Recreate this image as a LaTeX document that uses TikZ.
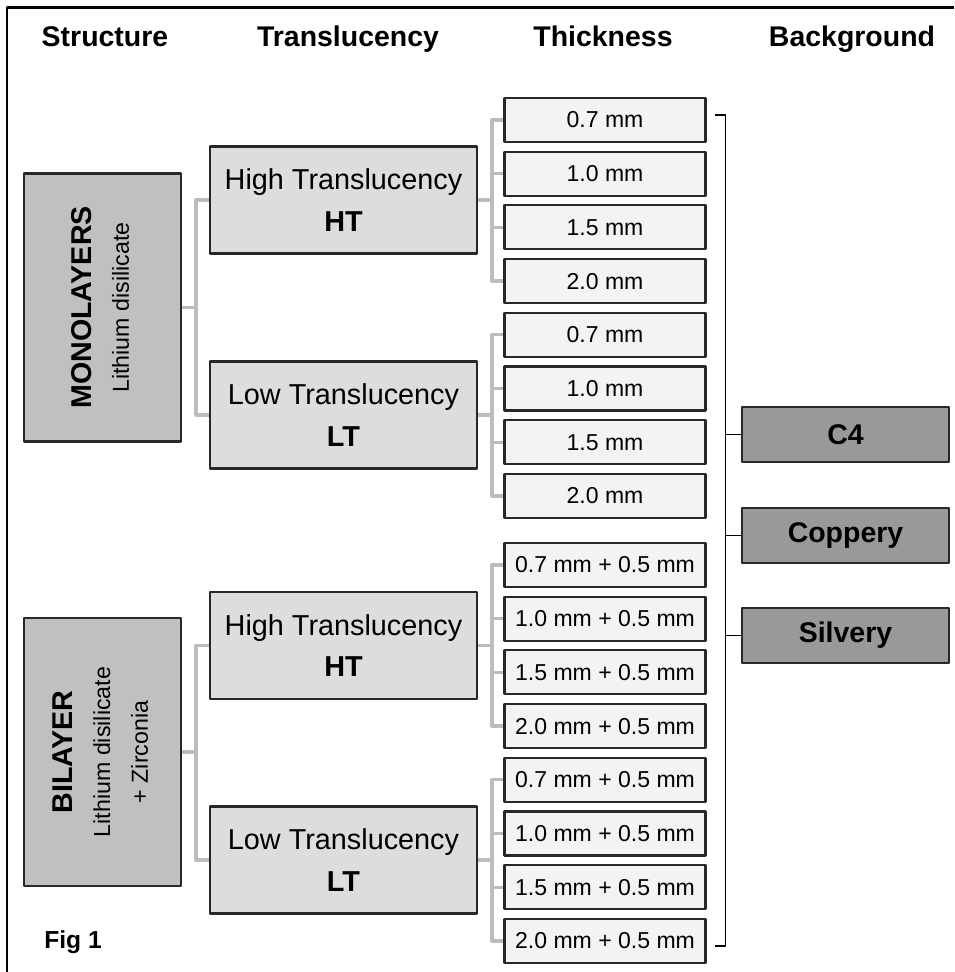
\documentclass[tikz,border=0pt]{standalone}
\usepackage{fontspec}
\setmainfont{Liberation Sans}
\usepackage{graphicx}
\usetikzlibrary{calc}
\definecolor{inkgray}{RGB}{40,40,40}
\definecolor{darkfill}{RGB}{192,192,192}
\definecolor{midfill}{RGB}{221,221,221}
\definecolor{lightfill}{RGB}{243,243,243}
\definecolor{bgfill}{RGB}{153,153,153}
\definecolor{linkgray}{RGB}{188,188,188}
\newcommand{\sidetext}[2]{\rotatebox{90}{\begin{tabular}{@{}c@{}}%
  {\fontsize{16.3}{21}\selectfont\bfseries #1}\\#2\end{tabular}}}
\tikzset{
  box/.style={draw=inkgray,line width=1.2pt,inner sep=0pt,align=center},
  structbox/.style={box,fill=darkfill,minimum width=3.14cm,minimum height=5.36cm,
    font=\fontsize{13.2}{21.5}\selectfont},
  transbox/.style={box,fill=midfill,minimum width=5.34cm,minimum height=2.14cm,
    font=\fontsize{16.4}{23.5}\selectfont},
  thickbox/.style={box,fill=lightfill,minimum width=4.02cm,minimum height=0.88cm,
    font=\fontsize{13.1}{16}\selectfont},
  bgbox/.style={box,fill=bgfill,minimum width=4.14cm,minimum height=1.1cm,
    font=\fontsize{16.2}{19}\selectfont\bfseries},
  head/.style={anchor=base,font=\fontsize{16.2}{19}\selectfont\bfseries},
  link/.style={linkgray,line width=1.9pt},
  brace/.style={black,line width=0.9pt}
}

\begin{document}
\begin{tikzpicture}[x=0.02cm,y=-0.02cm,line join=round]
  \useasboundingbox (0,0) rectangle (954,972);
  \draw[line width=1.7pt] (7,972) -- (7,8) -- (954,8);
  \node[head] (hstruct) at (105,47) {Structure};
  \node[head] (htrans) at (348,47) {Translucency};
  \node[head] (hthick) at (603,47) {Thickness};
  \node[head] (hback) at (852,47) {Background};
  \node[structbox] (mono) at (102.5,307.5) {\sidetext{MONOLAYERS}{Lithium disilicate}};
  \node[structbox] (bi) at (102.5,752) {\sidetext{BILAYER}{Lithium disilicate\\+ Zirconia}};
  \foreach \n/\y/\w/\a in {monoht/200/High/HT,monolt/415/Low/LT,biht/645.5/High/HT,bilt/860/Low/LT}
    \node[transbox] (\n) at (343.5,\y) {\w{} Translucency\\\textbf{\a}};
  \foreach \p/\c in {mono/monoht,mono/monolt,bi/biht,bi/bilt}
    \draw[link] (\p.east) -- ++(14,0) |- (\c.west);
  \foreach \i/\v in {0/0.7,1/1.0,2/1.5,3/2.0} {
    \node[thickbox] (monoht\i) at (605,{120+\i*53.7}) {\v\ mm};
    \node[thickbox] (monolt\i) at (605,{334.8+\i*53.7}) {\v\ mm};
    \node[thickbox] (biht\i) at (605,{565+\i*53.7}) {\v\ mm + 0.5 mm};
    \node[thickbox] (bilt\i) at (605,{779.8+\i*53.7}) {\v\ mm + 0.5 mm};
    \foreach \g in {monoht,monolt,biht,bilt}
      \draw[link] (\g.east) -- ++(14,0) |- (\g\i.west);
  }
  \foreach \n/\y/\t in {c4/434.5/C4,copper/535.5/Coppery,silver/635.5/Silvery}
    \node[bgbox] (\n) at (845.5,\y) {\t};
  \coordinate (brtop) at ($(monoht0.east)+(8,-5)$);
  \coordinate (brbot) at ($(bilt3.east)+(8,5)$);
  \coordinate (brx) at ($(brtop)+(11,0)$);
  \draw[brace] (brtop) -- (brx) |- (brbot);
  \foreach \n in {c4,copper,silver}
    \draw[brace] (\n.west) -- (\n.west -| brx);
  \node[anchor=base west,inner sep=0pt,font=\fontsize{14}{17}\selectfont\bfseries] (fig) at (44,948) {Fig 1};
\end{tikzpicture}
\end{document}
